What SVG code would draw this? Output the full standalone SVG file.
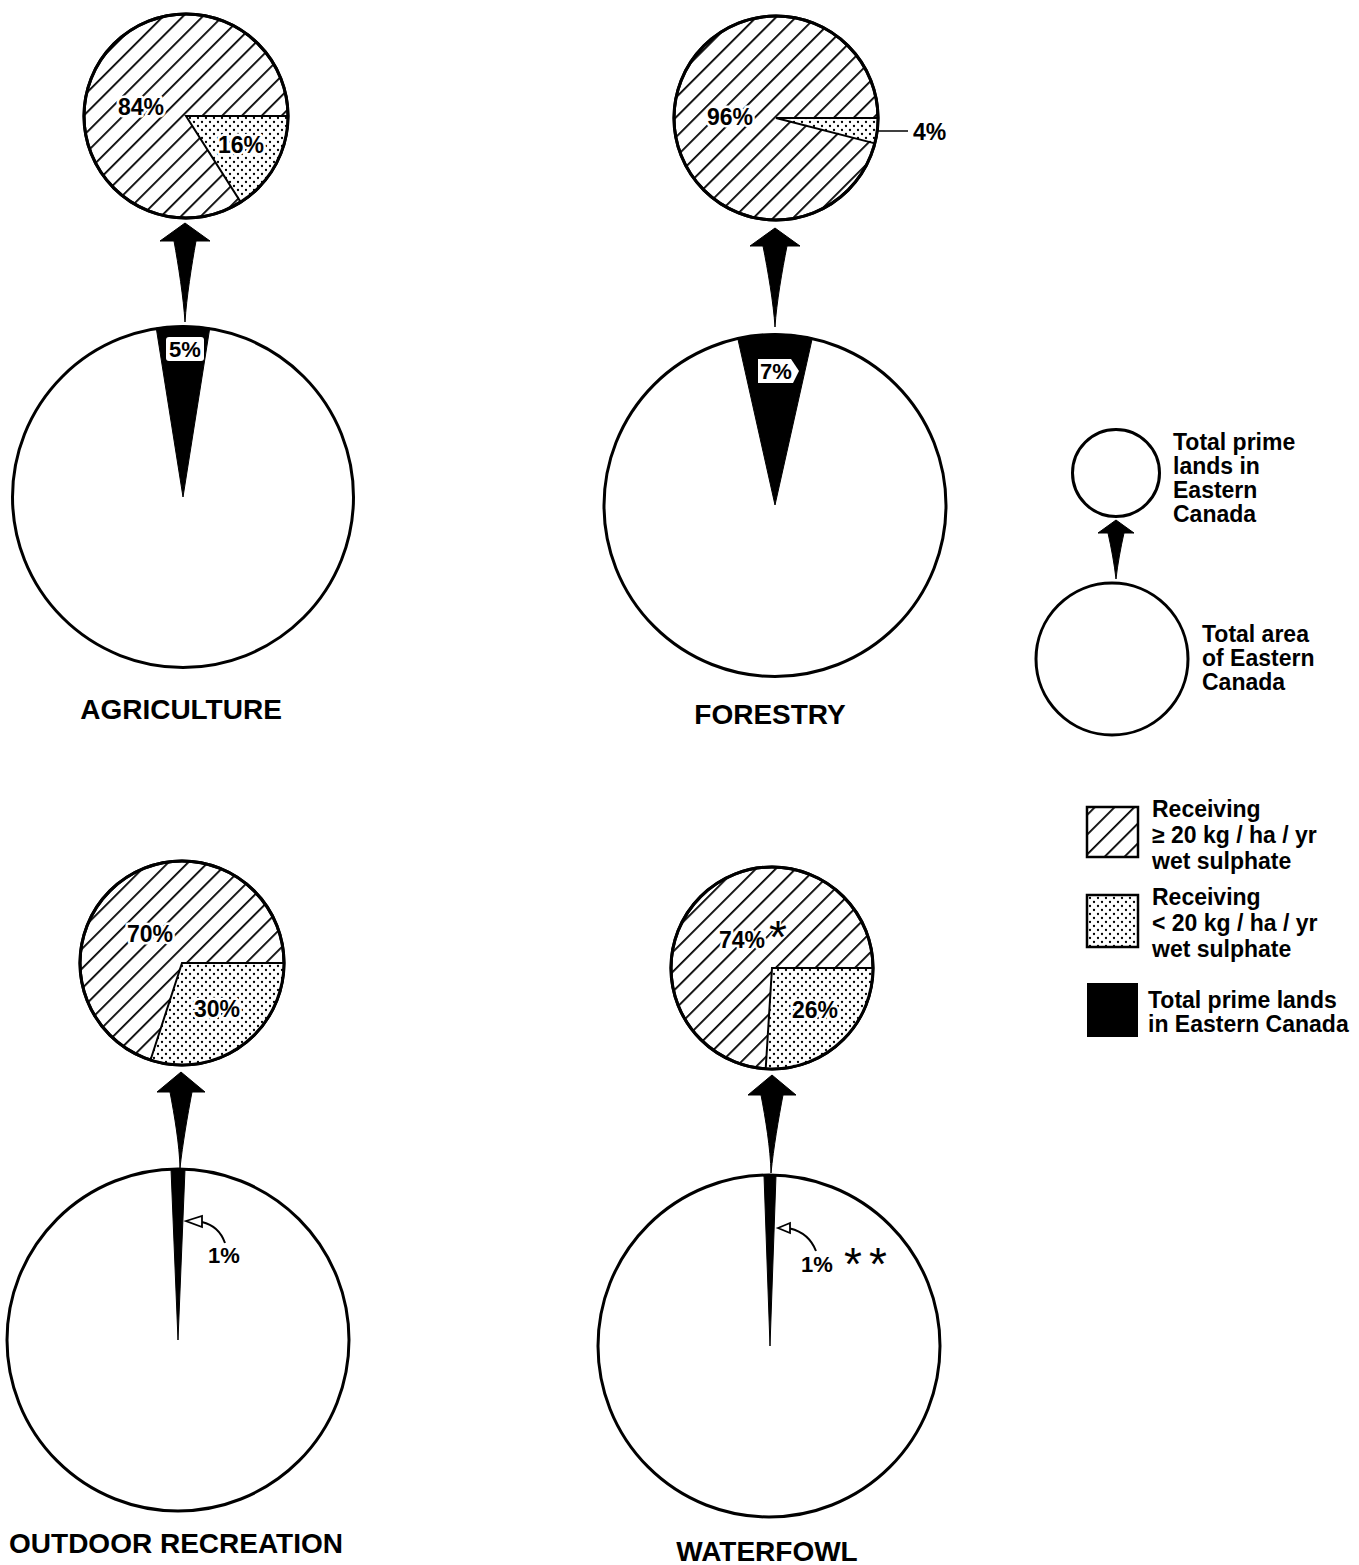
<svg xmlns="http://www.w3.org/2000/svg" width="1359" height="1565" viewBox="0 0 1359 1565">
<style>
.t{font-family:"Liberation Sans",Arial,sans-serif;font-weight:bold;fill:#000}
.lbl{font-size:23px;paint-order:stroke;stroke:#fff;stroke-width:5px;stroke-linejoin:round}
.ttl{font-size:28px;text-anchor:middle}
.leg{font-size:23px}
.ring{fill:none;stroke:#000;stroke-width:3}
.hat{fill:url(#hatch);stroke:#000;stroke-width:3}
.dot{fill:url(#dots);stroke:#000;stroke-width:2;stroke-linejoin:miter}
.blk{fill:#000;stroke:#000;stroke-width:1}
.arr{fill:#000;stroke:#000;stroke-width:1}
.bx{fill:#fff}
.ast{font-family:"Liberation Sans",Arial,sans-serif;font-size:46px;fill:#000;paint-order:stroke;stroke:#fff;stroke-width:3px}
</style>
<defs>
<pattern id="hatch" patternUnits="userSpaceOnUse" width="14" height="14" patternTransform="rotate(45)">
<rect width="14" height="14" fill="#fff"/>
<rect x="0" y="0" width="1.8" height="14" fill="#000"/>
</pattern>
<pattern id="dots" patternUnits="userSpaceOnUse" width="8" height="8">
<rect width="8" height="8" fill="#fff"/>
<circle cx="2" cy="2" r="1.15" fill="#000"/>
<circle cx="6" cy="6" r="1.15" fill="#000"/>
</pattern>
</defs>
<rect width="1359" height="1565" fill="#fff"/>

<g id="agriculture">
<circle class="hat" cx="186" cy="116" r="102"/>
<path class="dot" d="M186,116 L288,116 A102,102 0 0 1 240.7,202.1 Z"/>
<circle class="ring" cx="186" cy="116" r="102"/>
<text class="t lbl" x="118" y="115">84%</text>
<text class="t lbl" x="218" y="153">16%</text>
<path class="blk" d="M183,497 L156.25,328.1 A171,171 0 0 1 209.75,328.1 Z"/>
<circle class="ring" cx="183" cy="497" r="170.5"/>
<rect class="bx" x="166" y="337" width="38" height="24" rx="3"/>
<text class="t" x="185" y="357" font-size="22" text-anchor="middle">5%</text>
<text class="t ttl" x="181" y="719">AGRICULTURE</text>
</g>

<g id="forestry">
<circle class="hat" cx="776" cy="118" r="102"/>
<path class="dot" d="M776,118 L878,118 A102,102 0 0 1 874.8,143.4 Z"/>
<circle class="ring" cx="776" cy="118" r="102"/>
<text class="t lbl" x="707" y="125">96%</text>
<text class="t lbl" x="913" y="140">4%</text>
<path class="blk" d="M775,505 L737.7,338.1 A171,171 0 0 1 812.3,338.1 Z"/>
<circle class="ring" cx="775" cy="505.5" r="171"/>
<polygon class="bx" points="758,359 791,359 799,371 793,383 758,383"/>
<text class="t" x="776" y="379" font-size="22" text-anchor="middle">7%</text>
<text class="t ttl" x="770" y="724">FORESTRY</text>
</g>

<g id="outdoor-recreation">
<circle class="hat" cx="182" cy="963" r="102"/>
<path class="dot" d="M182,963 L284,963 A102,102 0 0 1 150.5,1060 Z"/>
<circle class="ring" cx="182" cy="963" r="102"/>
<text class="t lbl" x="127" y="942">70%</text>
<text class="t lbl" x="194" y="1017">30%</text>
<path class="blk" d="M178,1340 L171,1169.1 A171,171 0 0 1 185,1169.1 Z"/>
<circle class="ring" cx="178" cy="1340" r="171"/>
<text class="t" x="208" y="1263" font-size="22">1%</text>
<text class="t ttl" x="176" y="1553">OUTDOOR RECREATION</text>
</g>

<g id="waterfowl">
<circle class="hat" cx="772" cy="968" r="101"/>
<path class="dot" d="M772,968 L873,968 A101,101 0 0 1 765.7,1068.8 Z"/>
<circle class="ring" cx="772" cy="968" r="101"/>
<text class="t lbl" x="719" y="948">74%</text>
<text class="ast" x="778" y="953" text-anchor="middle">*</text>
<text class="t lbl" x="792" y="1018">26%</text>
<path class="blk" d="M770,1346 L764,1175.1 A171,171 0 0 1 776,1175.1 Z"/>
<circle class="ring" cx="769" cy="1346" r="171"/>
<text class="t" x="801" y="1272" font-size="22">1%</text>
<text class="ast" x="844 857 869" y="1280">* *</text>
<text class="t ttl" x="767" y="1561">WATERFOWL</text>
</g>

<g id="legend">
<circle class="ring" cx="1116" cy="473" r="43.5"/>
<circle class="ring" cx="1112" cy="659" r="76"/>
<text class="t leg" x="1173" y="450">Total prime</text>
<text class="t leg" x="1173" y="474">lands in</text>
<text class="t leg" x="1173" y="498">Eastern</text>
<text class="t leg" x="1173" y="522">Canada</text>
<text class="t leg" x="1202" y="642">Total area</text>
<text class="t leg" x="1202" y="666">of Eastern</text>
<text class="t leg" x="1202" y="690">Canada</text>
<rect x="1087" y="807" width="51" height="50" fill="url(#hatch)" stroke="#000" stroke-width="2.5"/>
<text class="t leg" x="1152" y="817">Receiving</text>
<text class="t leg" x="1152" y="843">≥ 20 kg / ha / yr</text>
<text class="t leg" x="1152" y="869">wet sulphate</text>
<rect x="1087" y="895" width="51" height="52" fill="url(#dots)" stroke="#000" stroke-width="2.5"/>
<text class="t leg" x="1152" y="905">Receiving</text>
<text class="t leg" x="1152" y="931">&lt; 20 kg / ha / yr</text>
<text class="t leg" x="1152" y="957">wet sulphate</text>
<rect x="1087" y="983" width="51" height="54" fill="#000"/>
<text class="t leg" x="1148" y="1008">Total prime lands</text>
<text class="t leg" x="1148" y="1032">in Eastern Canada</text>
</g>

<g id="connectors">
<path class="arr" d="M185,223 L210,241 L196,241 C191.6,265 186.5,298 185,322 C183.5,298 178.4,265 174,241 L160,241 Z"/>
<path class="arr" d="M775,228 L800,246 L787,246 C782.2,270 776.5,303 775,327 C773.5,303 767.8,270 763,246 L750,246 Z"/>
<path class="arr" d="M181,1072 L205,1092 L192,1092 C187.6,1115 182.5,1145 180,1168 C179.5,1145 174.4,1115 170,1092 L157,1092 Z"/>
<path class="arr" d="M772,1075 L796,1095 L783,1095 C778.6,1118 773.5,1148 771,1173 C770.5,1148 765.4,1118 761,1095 L748,1095 Z"/>
<path class="arr" d="M1116,520 L1134,533 L1124,533 C1120.8,547 1117.5,565 1116,579 C1114.5,565 1111.2,547 1108,533 L1098,533 Z"/>
<line x1="878" y1="131" x2="908" y2="131" stroke="#000" stroke-width="1.5"/>
<path d="M225,1243 Q219,1226 202,1222" fill="none" stroke="#000" stroke-width="2"/>
<polygon points="186,1221 202,1216 202,1227" fill="#fff" stroke="#000" stroke-width="1.8"/>
<path d="M816,1251 Q809,1233 790,1228.5" fill="none" stroke="#000" stroke-width="2"/>
<polygon points="778,1228 790,1223 790,1233" fill="#fff" stroke="#000" stroke-width="1.8"/>
</g>
</svg>
